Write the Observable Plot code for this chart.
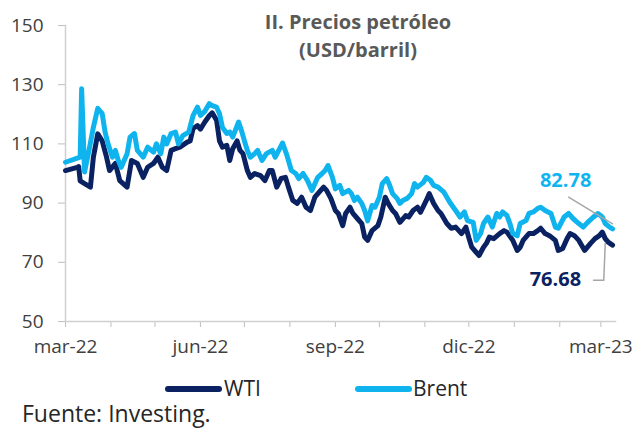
<!DOCTYPE html>
<html><head><meta charset="utf-8">
<script src="https://cdn.jsdelivr.net/npm/d3@7"></script>
<script src="https://cdn.jsdelivr.net/npm/@observablehq/plot@0.6"></script>
<style>
body{margin:0;background:#fff;}
#wrap{position:relative;width:633px;height:429px;font-family:"Open Sans",sans-serif;overflow:hidden;background:#fff}
#wrap svg{position:absolute;left:0;top:0}
.title{position:absolute;left:208px;width:300px;text-align:center;font-weight:bold;font-size:20px;color:#595959;line-height:28px;top:8px}
.leg{position:absolute;font-size:21px;color:#262626;line-height:26px;top:375px}
.sw{position:absolute;height:6px;width:57px;top:386px;border-radius:3px}
.cap{position:absolute;left:22px;top:400px;font-size:23px;color:#262626;line-height:26px}
</style></head><body><div id="wrap"></div>
<script>
const wtiDates = ["2022-03-01","2022-03-09","2022-03-10","2022-03-11","2022-03-14","2022-03-18","2022-03-20","2022-03-23","2022-03-26","2022-03-29","2022-03-31","2022-04-04","2022-04-07","2022-04-12","2022-04-15","2022-04-19","2022-04-23","2022-04-26","2022-04-30","2022-05-03","2022-05-06","2022-05-09","2022-05-12","2022-05-15","2022-05-18","2022-05-23","2022-05-25","2022-05-27","2022-05-30","2022-06-01","2022-06-04","2022-06-07","2022-06-09","2022-06-12","2022-06-14","2022-06-16","2022-06-19","2022-06-21","2022-06-23","2022-06-26","2022-06-28","2022-06-30","2022-07-03","2022-07-05","2022-07-08","2022-07-12","2022-07-15","2022-07-18","2022-07-20","2022-07-23","2022-07-26","2022-07-29","2022-07-31","2022-08-03","2022-08-06","2022-08-09","2022-08-12","2022-08-15","2022-08-18","2022-08-22","2022-08-24","2022-08-26","2022-08-29","2022-09-01","2022-09-03","2022-09-06","2022-09-08","2022-09-11","2022-09-13","2022-09-16","2022-09-19","2022-09-21","2022-09-23","2022-09-26","2022-09-30","2022-10-02","2022-10-05","2022-10-07","2022-10-10","2022-10-12","2022-10-15","2022-10-19","2022-10-21","2022-10-24","2022-10-27","2022-10-29","2022-11-02","2022-11-04","2022-11-07","2022-11-10","2022-11-12","2022-11-16","2022-11-19","2022-11-22","2022-11-26","2022-11-29","2022-12-01","2022-12-03","2022-12-06","2022-12-08","2022-12-11","2022-12-13","2022-12-15","2022-12-18","2022-12-22","2022-12-25","2022-12-27","2022-12-31","2023-01-03","2023-01-05","2023-01-07","2023-01-11","2023-01-14","2023-01-17","2023-01-19","2023-01-22","2023-01-25","2023-01-29","2023-01-31","2023-02-03","2023-02-06","2023-02-08","2023-02-11","2023-02-14","2023-02-16","2023-02-18","2023-02-22","2023-02-25","2023-02-28","2023-03-02","2023-03-04","2023-03-06","2023-03-09"];
const wtiValues = [101,102.1,102.3,97.5,96.6,95.4,105.5,113.4,111,105.5,101,103.4,97.6,95.4,104.4,103.4,98.7,102.1,103.4,105.5,102.1,101,107.8,108.4,108.9,110.6,111,115.2,116.2,115,117.4,119.5,120.5,118,111,108.9,109.5,104.4,108.4,111,107.8,106.7,101,98.7,100,99.3,97.6,101,101,95.4,98.3,98.7,95.4,90.9,89.9,92,88.6,87.5,92,94.3,95.4,94.3,91.5,87.5,86.5,82.4,86.5,88.6,86.5,84.8,83.1,78.5,77.4,80.7,82.4,85.3,92,89.9,87.5,86.5,83.5,85.8,85.3,87.5,88.6,86.9,90.9,93.2,89.9,87.5,86.5,83.1,81.5,81.9,79.7,81.9,78.3,75.1,73.4,72.3,75.1,76.4,78.5,78,79.7,80.7,80.2,77.4,74,75.1,77.4,79.7,79.7,80.7,81.5,79.7,79,77.4,74,74.7,78,79.7,79,77.4,75.7,74,76.4,78,79,80.2,78,76.8,75.8];
const brentDates = ["2022-03-01","2022-03-11","2022-03-12","2022-03-14","2022-03-17","2022-03-20","2022-03-23","2022-03-26","2022-03-28","2022-03-30","2022-04-02","2022-04-04","2022-04-06","2022-04-08","2022-04-12","2022-04-14","2022-04-17","2022-04-19","2022-04-23","2022-04-26","2022-04-30","2022-05-02","2022-05-05","2022-05-07","2022-05-09","2022-05-12","2022-05-15","2022-05-17","2022-05-20","2022-05-24","2022-05-27","2022-05-30","2022-06-01","2022-06-04","2022-06-07","2022-06-09","2022-06-12","2022-06-14","2022-06-16","2022-06-19","2022-06-21","2022-06-23","2022-06-27","2022-06-29","2022-07-01","2022-07-03","2022-07-05","2022-07-08","2022-07-10","2022-07-13","2022-07-16","2022-07-20","2022-07-22","2022-07-25","2022-07-27","2022-07-30","2022-08-02","2022-08-05","2022-08-07","2022-08-10","2022-08-13","2022-08-16","2022-08-20","2022-08-23","2022-08-25","2022-08-27","2022-08-30","2022-09-01","2022-09-04","2022-09-06","2022-09-10","2022-09-12","2022-09-14","2022-09-16","2022-09-19","2022-09-21","2022-09-23","2022-09-26","2022-09-28","2022-10-01","2022-10-03","2022-10-06","2022-10-08","2022-10-10","2022-10-13","2022-10-15","2022-10-17","2022-10-20","2022-10-23","2022-10-25","2022-10-27","2022-10-31","2022-11-02","2022-11-05","2022-11-07","2022-11-10","2022-11-14","2022-11-16","2022-11-18","2022-11-22","2022-11-25","2022-11-28","2022-11-30","2022-12-04","2022-12-06","2022-12-09","2022-12-11","2022-12-14","2022-12-17","2022-12-20","2022-12-22","2022-12-24","2022-12-27","2022-12-29","2022-12-31","2023-01-03","2023-01-05","2023-01-09","2023-01-11","2023-01-14","2023-01-17","2023-01-19","2023-01-22","2023-01-26","2023-01-29","2023-01-31","2023-02-04","2023-02-07","2023-02-10","2023-02-14","2023-02-17","2023-02-20","2023-02-24","2023-02-27","2023-03-02","2023-03-04","2023-03-07","2023-03-09"];
const brentValues = [103.8,105.5,128.6,100.5,107.8,115.6,122,120.2,114,110,105.5,107.8,104.4,102.1,106.7,112.3,113.5,107.8,105.5,108.9,107.2,110,106.7,112.3,110,113.5,114,110,112.8,114,119.6,122.4,119.6,121,123.6,122.9,122.4,120.2,115.6,113.5,114,112.3,117.4,114.5,111,107.8,105.5,106.7,107.8,104.4,106.7,107.8,105.5,108.4,110.3,106.1,101,100,98.3,100,97.6,94.3,98.7,100,101,102.7,98.7,94.8,96,93.2,94.3,93.2,90.9,92,89.9,87.5,84,89.2,88.6,92,96.6,98.3,96,93.2,91.6,89.9,90.9,91.6,93.2,96.6,95.4,97,98.7,97.6,96,95.4,93.7,92,90.3,87.5,85.3,87,84.1,83.5,77.4,79.7,83.1,85.3,81.9,86.5,85.3,87,85.8,83.1,79.7,79,83.1,84.1,86.5,87,88.2,88.6,87.5,86.5,81.9,81.5,85.3,86.5,84.8,83.1,81.9,83.5,85.3,86.5,85.3,83.1,81.9,81.3];
const yTicks = [50,70,90,110,130,150];
const xLabelDates = ["2022-03-01","2022-06-01","2022-09-01","2022-12-01","2023-03-01"];
const xLabels = ["mar-22","jun-22","sep-22","dic-22","mar-23"];
const seriesNames = ["WTI","Brent"];
const seriesColors = ["#0a2262","#0fb4ef"];
const lastLabels = ["76.68","82.78"];
const lastLabelDates = ["2023-01-29","2023-02-05"];
const lastLabelValues = [64.2,97.6];
const brentLeaderDates = ["2023-02-07","2023-03-09"];
const brentLeaderValues = [92,83];
const wtiLeaderDates = ["2023-02-24","2023-03-03","2023-03-04"];
const wtiLeaderValues = [63.9,63.9,76.4];

const P = d => new Date(d + "T00:00:00Z");
const wti = wtiDates.map((d,i)=>({date:P(d),value:wtiValues[i]}));
const brent = brentDates.map((d,i)=>({date:P(d),value:brentValues[i]}));
const labels = lastLabels.map((t,i)=>({date:P(lastLabelDates[i]),value:lastLabelValues[i],text:t,color:seriesColors[i]}));
const bLead = brentLeaderDates.map((d,i)=>({date:P(d),value:brentLeaderValues[i]}));
const wLead = wtiLeaderDates.map((d,i)=>({date:P(d),value:wtiLeaderValues[i]}));
const monthTicks = d3.utcMonth.range(P("2022-03-01"), P("2023-03-02"));
const labelMap = new Map(xLabelDates.map((d,i)=>[+P(d), xLabels[i]]));

const chart = Plot.plot({
  width:633, height:360,
  marginLeft:65, marginRight:18, marginTop:25, marginBottom:39,
  style:{fontFamily:"Open Sans, sans-serif", color:"#404040", background:"transparent"},
  x:{type:"utc", domain:[P("2022-03-01"), P("2023-03-11")]},
  y:{domain:[50,150]},
  marks:[
    Plot.axisY({ticks:yTicks, tickSize:7, tickPadding:15, stroke:"#bfbfbf", fontSize:19, label:null, color:"#404040"}),
    Plot.axisX({ticks:monthTicks, tickSize:6, tickFormat:()=>"", stroke:"#bfbfbf", label:null}),
    Plot.axisX({ticks:xLabelDates.map(P), tickSize:0, tickPadding:18, tickFormat:d=>labelMap.get(+d), fontSize:19, label:null, color:"#404040"}),
    Plot.frame({anchor:"left", stroke:"#d0d0d0", strokeWidth:1.5}),
    Plot.frame({anchor:"bottom", stroke:"#d0d0d0", strokeWidth:1.5}),
    Plot.line(wti, {x:"date", y:"value", stroke:seriesColors[0], strokeWidth:5, strokeLinejoin:"round"}),
    Plot.line(brent, {x:"date", y:"value", stroke:seriesColors[1], strokeWidth:5, strokeLinejoin:"round"}),
    Plot.line(bLead, {x:"date", y:"value", stroke:"#a6a6a6", strokeWidth:1.5}),
    Plot.line(wLead, {x:"date", y:"value", stroke:"#a6a6a6", strokeWidth:1.5}),
    Plot.text(labels, {x:"date", y:"value", text:"text", fill:"color", fontSize:20, fontWeight:"bold"})
  ]
});
const wrap = document.getElementById("wrap");
wrap.appendChild(chart);
wrap.insertAdjacentHTML("beforeend",
  `<div class="title">II. Precios petróleo<br>(USD/barril)</div>` +
  `<div class="sw" style="left:165px;background:${seriesColors[0]}"></div><div class="leg" style="left:224px">${seriesNames[0]}</div>` +
  `<div class="sw" style="left:355px;background:${seriesColors[1]}"></div><div class="leg" style="left:413px">${seriesNames[1]}</div>` +
  `<div class="cap">Fuente: Investing.</div>`);
</script></body></html>
